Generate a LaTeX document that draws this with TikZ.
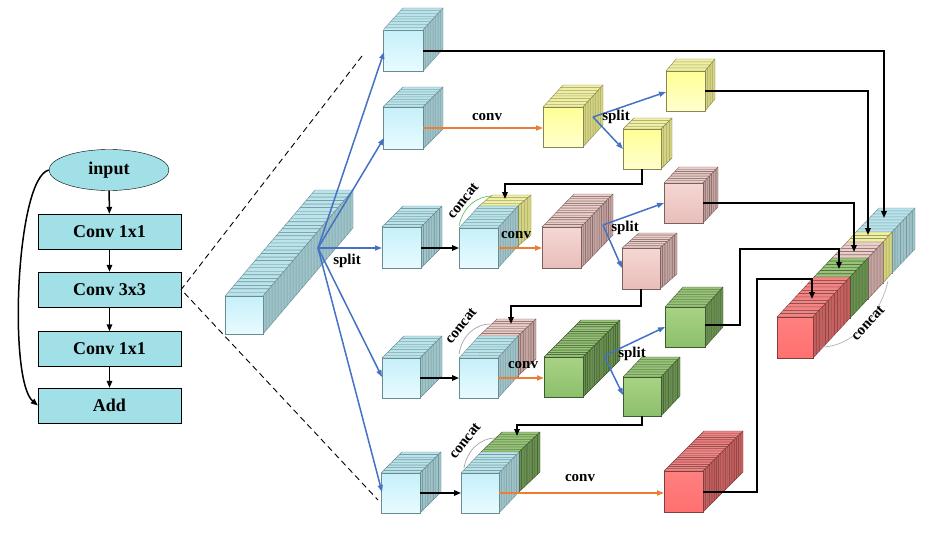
\documentclass[tikz,border=0pt]{standalone}
\usepackage{fontspec}
\setmainfont{Liberation Serif}
\usetikzlibrary{arrows.meta,shapes.geometric}
\definecolor{boxc}{RGB}{160,224,230}
\definecolor{cyF}{RGB}{198,240,250}\definecolor{cyG}{RGB}{232,251,255}
\definecolor{cyT}{RGB}{186,228,236}\definecolor{cyS}{RGB}{158,196,202}\definecolor{cyE}{RGB}{105,140,145}
\definecolor{yeF}{RGB}{255,255,150}\definecolor{yeG}{RGB}{255,255,205}
\definecolor{yeT}{RGB}{240,240,165}\definecolor{yeS}{RGB}{212,212,128}\definecolor{yeE}{RGB}{135,135,78}
\definecolor{piF}{RGB}{245,215,212}\definecolor{piG}{RGB}{232,190,186}
\definecolor{piT}{RGB}{234,206,202}\definecolor{piS}{RGB}{196,164,160}\definecolor{piE}{RGB}{125,96,94}
\definecolor{grF}{RGB}{168,210,132}\definecolor{grG}{RGB}{140,192,108}
\definecolor{grT}{RGB}{152,196,120}\definecolor{grS}{RGB}{106,144,80}\definecolor{grE}{RGB}{62,90,48}
\definecolor{reF}{RGB}{255,128,128}\definecolor{reG}{RGB}{255,112,112}
\definecolor{reT}{RGB}{242,132,132}\definecolor{reS}{RGB}{200,96,96}\definecolor{reE}{RGB}{125,62,62}
\definecolor{blu}{RGB}{68,114,196}
\definecolor{org}{RGB}{237,125,49}
% stack: x y w h ox oy n colour name
\newcommand\stk[9]{%
  \foreach \i in {#7,...,1}{%
    \pgfmathsetmacro\ax{#1+(\i-1)*#5/#7}%
    \pgfmathsetmacro\ay{#2-(\i-1)*#6/#7}%
    \pgfmathsetmacro\bx{#1+\i*#5/#7}%
    \pgfmathsetmacro\by{#2-\i*#6/#7}%
    \filldraw[fill=#8T,draw=#8E,line width=0.4pt,line join=round] (\ax,\ay) -- (\ax+#3,\ay) -- (\bx+#3,\by) -- (\bx,\by) -- cycle;
    \filldraw[fill=#8S,draw=#8E,line width=0.4pt,line join=round] (\ax+#3,\ay) -- (\bx+#3,\by) -- (\bx+#3,\by+#4) -- (\ax+#3,\ay+#4) -- cycle;
  }%
  \draw[draw=#8E,line width=0.5pt,top color=#8F,bottom color=#8G] (#1,#2) rectangle ++(#3,#4);
  \coordinate (#9) at (#1,#2);
}
\tikzset{
  fbox/.style={draw=black,fill=boxc,minimum width=143pt,minimum height=35pt,inner sep=0pt,font=\fontsize{18}{18}\selectfont\bfseries},
  lbl/.style={inner sep=0pt,font=\fontsize{15}{15}\selectfont\bfseries},
  farr/.style={line width=1.5pt,-{Triangle[length=7pt,width=5.5pt]}},
  barr/.style={blu,line width=1.5pt,-{Triangle[length=7pt,width=5pt]}},
  oarr/.style={org,line width=1.6pt,-{Triangle[length=7pt,width=5pt]}},
  karr/.style={black,line width=1.6pt,-{Triangle[length=7pt,width=5.5pt]}},
  arcline/.style={line width=0.7pt},
}
\begin{document}
\begin{tikzpicture}[x=1pt,y=-1pt]
\useasboundingbox (0,0) rectangle (952,535);
% ---- flowchart
\node[ellipse,draw=black,fill=boxc,minimum width=120pt,minimum height=41pt,inner sep=0pt,font=\fontsize{18}{18}\selectfont\bfseries] (in) at (109,170) {input};
\node[fbox] (c1) at (109.5,231.5) {Conv 1x1};
\node[fbox] (c2) at (109.5,289.5) {Conv 3x3};
\node[fbox] (c3) at (109.5,349) {Conv 1x1};
\node[fbox] (add) at (109.5,405.5) {Add};
\draw[farr] (in) -- (c1);
\draw[farr] (c1) -- (c2);
\draw[farr] (c2) -- (c3);
\draw[farr] (c3) -- (add);
\draw[farr] (in.west) .. controls (16,178) and (8,380) .. (add.west);
% dashed zoom lines
\coordinate (dz1) at (362,56);
\coordinate (dz2) at (378,500);
\draw[dashed,dash pattern=on 6pt off 4pt,line width=0.9pt] (dz1) -- (c2.east) -- (dz2);
% ---- big stack
\stk{225}{296}{38}{38}{90}{106}{30}{cy}{big}
% ---- first column
\stk{383}{30}{40}{41}{20}{22}{8}{cy}{a1}
\stk{383}{107}{40}{42}{20}{20}{8}{cy}{a2}
\stk{382}{227}{39}{41}{21}{21}{8}{cy}{a3}
\stk{382}{358}{38}{40}{22}{22}{8}{cy}{a4}
\stk{381}{473}{39}{40}{21}{21}{8}{cy}{a5}
% ---- concat columns
\stk{479}{206}{39}{40}{13}{11}{4}{ye}{b3b}
\stk{459}{228}{39}{40}{20}{22}{8}{cy}{b3}
\stk{479}{336}{39}{40}{18}{17}{7}{pi}{b4b}
\stk{459}{358}{39}{40}{20}{22}{8}{cy}{b4}
\stk{481}{452}{38}{40}{21}{20}{8}{gr}{b5b}
\stk{461}{473}{38}{40}{20}{21}{8}{cy}{b5}
% ---- conv outputs
\stk{543}{107}{40}{40}{20}{22}{8}{ye}{y0}
\stk{666}{71}{39}{40}{10}{12}{4}{ye}{y1}
\stk{623}{129}{38}{40}{11}{11}{4}{ye}{y2}
\stk{542}{227}{39}{41}{32}{33}{14}{pi}{p0}
\stk{664}{183}{39}{40}{15}{16}{7}{pi}{p1}
\stk{622}{248}{38}{41}{17}{15}{7}{pi}{p2}
\stk{544}{357}{39}{40}{37}{37}{16}{gr}{g0}
\stk{665}{307}{40}{40}{18}{20}{8}{gr}{g1}
\stk{623}{377}{38}{39}{19}{20}{8}{gr}{g2}
\stk{664}{471}{39}{41}{40}{40}{18}{re}{r0}
% ---- final concat
\stk{856}{232}{36}{41}{23}{24}{8}{cy}{hc}
\stk{847}{242}{36}{41}{9}{10}{3}{ye}{hy}
\stk{832}{258}{36}{41}{15}{16}{5}{pi}{hp}
\stk{814}{277}{36}{41}{18}{19}{6}{gr}{hg}
\stk{777}{317}{36}{41}{37}{40}{12}{re}{hr}
% ---- split from big stack
\coordinate (sp) at (318,248);
\coordinate (ta1) at (384,52);
\coordinate (ta2) at (384,138);
\coordinate (ta3) at (382,248);
\coordinate (ta4) at (382,377);
\coordinate (ta5) at (382,492);
\draw[barr] (sp) -- (ta1);
\draw[barr] (sp) -- (ta2);
\draw[barr] (sp) -- (ta3);
\draw[barr] (sp) -- (ta4);
\draw[barr] (sp) -- (ta5);
\node[lbl] (lsp0) at (347,261) {split};
% ---- row 2
\coordinate (a2e) at (423,128);
\coordinate (y0w) at (543,128);
\draw[oarr] (a2e) -- (y0w);
\node[lbl] (lc2) at (487,117) {conv};
\coordinate (sy) at (593,117);
\coordinate (y1w) at (666,92);
\coordinate (y2w) at (623,149);
\draw[barr] (sy) -- (y1w);
\draw[barr] (sy) -- (y2w);
\node[lbl] (ls2) at (616,117) {split};
% ---- row 3
\coordinate (a3e) at (421,248);
\coordinate (b3w) at (459,248);
\draw[karr] (a3e) -- (b3w);
\coordinate (b3e) at (498,248);
\coordinate (p0w) at (542,248);
\draw[oarr] (b3e) -- (p0w);
\node[lbl] (lc3) at (516,235) {conv};
\coordinate (spp) at (603,225);
\coordinate (p1w) at (664,203);
\coordinate (p2w) at (622,268);
\draw[barr] (spp) -- (p1w);
\draw[barr] (spp) -- (p2w);
\node[lbl] (ls3) at (625,228) {split};
\draw[arcline,green!60!black!60] (459,226) .. controls (463,206) and (478,196) .. (492,196);
\node[lbl,rotate=52] (lk3) at (463,201) {concat};
% ---- row 4
\coordinate (a4e) at (420,378);
\coordinate (b4w) at (459,378);
\draw[karr] (a4e) -- (b4w);
\coordinate (b4e) at (498,378);
\coordinate (g0w) at (544,378);
\draw[oarr] (b4e) -- (g0w);
\node[lbl] (lc4) at (523,365) {conv};
\coordinate (sg) at (604,356);
\coordinate (g1w) at (665,327);
\coordinate (g2w) at (623,395);
\draw[barr] (sg) -- (g1w);
\draw[barr] (sg) -- (g2w);
\node[lbl] (ls4) at (632,354) {split};
\draw[arcline,gray!70] (459,354) .. controls (462,335) and (476,324) .. (490,324);
\node[lbl,rotate=52] (lk4) at (461,326) {concat};
% ---- row 5
\coordinate (a5e) at (420,493);
\coordinate (b5w) at (461,493);
\draw[karr] (a5e) -- (b5w);
\coordinate (b5e) at (499,493);
\coordinate (r0w) at (664,493);
\draw[oarr] (b5e) -- (r0w);
\node[lbl] (lc5) at (580,478) {conv};
\draw[arcline,gray!70] (464,468) .. controls (467,450) and (481,438) .. (495,438);
\node[lbl,rotate=52] (lk5) at (465,441) {concat};
% ---- feedback connectors
\coordinate (y2s) at (642,169);
\coordinate (b3n) at (505,199);
\draw[karr] (y2s) -- (642,184) -- (505,184) -- (b3n);
\coordinate (p2s) at (641,289);
\coordinate (b4n) at (511,324);
\draw[karr] (p2s) -- (641,306) -- (511,306) -- (b4n);
\coordinate (g2s) at (642,416);
\coordinate (b5n) at (517,436);
\draw[karr] (g2s) -- (642,425) -- (517,425) -- (b5n);
% ---- to final concat
\coordinate (a1e) at (423,51);
\coordinate (hcn) at (884,218);
\draw[karr] (a1e) -- (884,51) -- (hcn);
\coordinate (y1e) at (705,91);
\coordinate (hyn) at (868,235);
\draw[karr] (y1e) -- (868,91) -- (hyn);
\coordinate (p1e) at (703,203);
\coordinate (hpn) at (854,252);
\draw[karr] (p1e) -- (854,203) -- (hpn);
\coordinate (g1e) at (705,325);
\coordinate (hgn) at (839,269);
\draw[karr] (g1e) -- (740,325) -- (740,249) -- (839,249) -- (hgn);
\coordinate (r0e) at (703,492);
\coordinate (hrn) at (812,299);
\draw[karr] (r0e) -- (757,492) -- (757,279) -- (812,279) -- (hrn);
\draw[arcline,gray!60] (822,347) .. controls (856,346) and (881,312) .. (888,281);
\node[lbl,rotate=47] (lkh) at (868,323) {concat};
\end{tikzpicture}
\end{document}
